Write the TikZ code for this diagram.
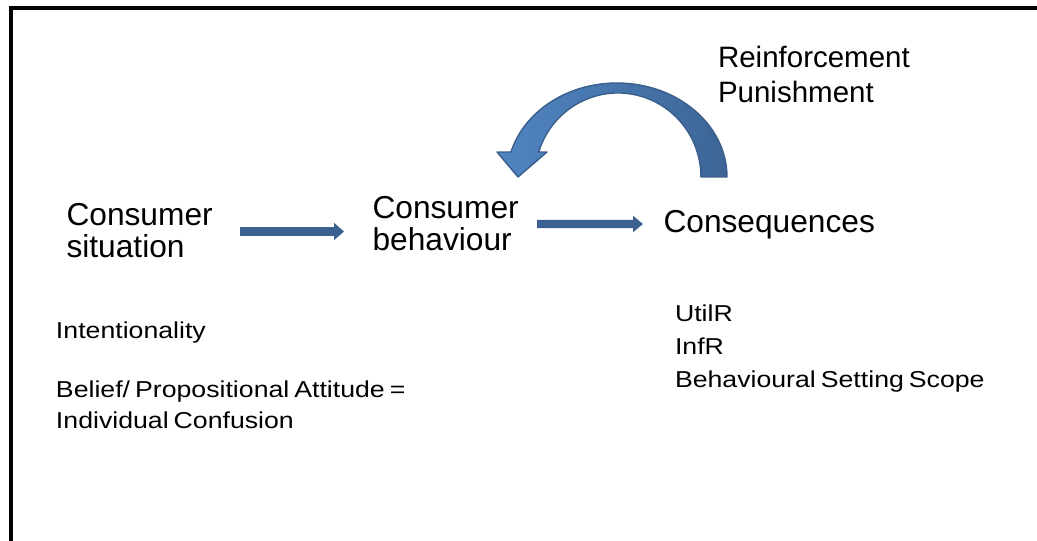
\documentclass[tikz,border=0pt]{standalone}
\usepackage{fontspec}
\setmainfont{Liberation Sans}
\newfontfamily\widesans[FakeStretch=1.16]{Liberation Sans}
\usetikzlibrary{calc}
\definecolor{blockblue}{HTML}{3B6191}
\definecolor{curvelight}{HTML}{5085C2}
\definecolor{curvedark}{HTML}{3D6596}
\definecolor{curveedge}{HTML}{3A5F8B}

% straight block arrow from #1 to #2 (shaft half-height #3, head half-height #4)
\newcommand\blockarrow[4]{%
  \fill[blockblue] ($(#1)+(0,#3)$) -- ($(#2)+(-10,#3)$) -- ($(#2)+(-10,#4)$) -- (#2)
    -- ($(#2)+(-10,-#4)$) -- ($(#2)+(-10,-#3)$) -- ($(#1)+(0,-#3)$) -- cycle;}
% narrow word spacing for the annotation text
\newcommand\narrowwords{\spaceskip=5pt plus 1pt minus 1pt\relax}

\begin{document}
\begin{tikzpicture}[x=1pt,y=1pt,
  % nodes are placed by the baseline of their last line
  txt/.style={anchor=base west,inner sep=0pt,outer sep=0pt,align=left},
  bigtext/.style={txt,font=\fontsize{31.7}{32}\selectfont},
  looptext/.style={txt,font=\fontsize{29.5}{35}\selectfont},
  smalltext/.style={txt,font=\widesans\fontsize{23}{31.5}\selectfont\narrowwords},
  righttext/.style={smalltext,font=\widesans\fontsize{23}{33}\selectfont\narrowwords}]
\useasboundingbox (0,0) rectangle (1037,-541);

% frame: top and left edges only
\draw[line width=4pt] (10.5,-541) -- (10.5,-7.5) -- (1037,-7.5);

% main labels
\node[bigtext] (situ) at (66.5,-257) {Consumer\\situation};
\node[bigtext] (behav) at (372.5,-250) {Consumer\\behaviour};
\node[bigtext] (conseq) at (663.5,-232) {Consequences};
\node[looptext] (reinf) at (718,-102) {Reinforcement\\Punishment};

% annotations
\node[smalltext] (intent) at (56,-338) {Intentionality};
\node[smalltext] (belief) at (56,-428.5) {Belief/ Propositional Attitude =\\Individual Confusion};
\node[righttext] (util) at (675,-387) {UtilR\\InfR\\Behavioural Setting Scope};

% straight arrows
\coordinate (a1s) at (240,-231.5);
\coordinate (a1e) at (344,-231.5);
\coordinate (a2s) at (537,-224);
\coordinate (a2e) at (643,-224);
\blockarrow{a1s}{a1e}{4.3}{8.7}
\blockarrow{a2s}{a2e}{4.2}{8.3}

% curved feedback arrow from consequences back to behaviour
\coordinate (cstart) at (727,-177);
\coordinate (ctip) at (518,-177);
\draw[curveedge,line width=1.4pt,line join=round,left color=curvelight,right color=curvedark]
  (cstart) arc[start angle=0,end angle=164.6,x radius=110,y radius=94]
  -- (497,-152) -- (ctip) -- (547,-152) -- (538.7,-152)
  arc[start angle=162.7,end angle=0,x radius=83,y radius=84] -- cycle;
\end{tikzpicture}
\end{document}
